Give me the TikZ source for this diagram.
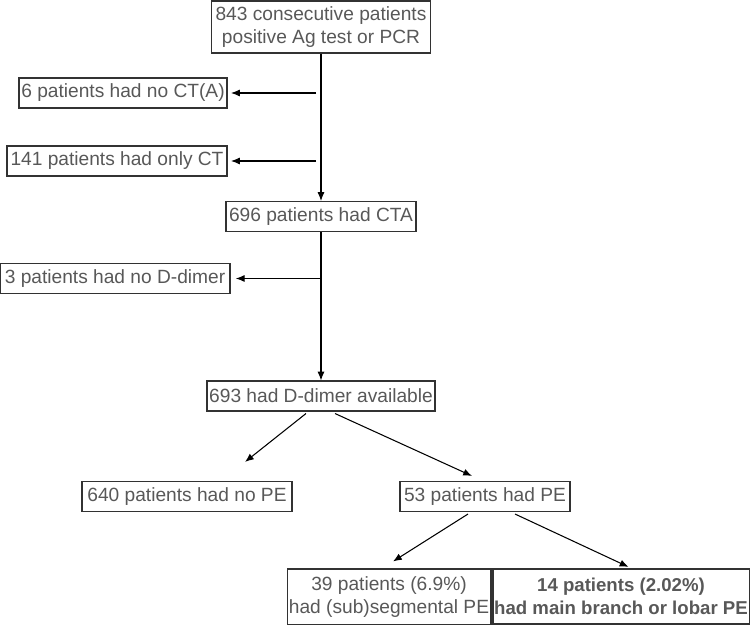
\documentclass[tikz,border=0pt]{standalone}
\usepackage{fontspec}
\setmainfont{Liberation Sans}
\usetikzlibrary{arrows.meta}
\definecolor{boxtext}{RGB}{88,88,88}
\definecolor{boxline}{RGB}{50,50,50}
\begin{document}
\begin{tikzpicture}[
    box/.style={draw=boxline, line width=0.6pt, text=boxtext, align=center, inner sep=1pt,
      minimum height=0.6cm, font=\fontsize{10.9}{13}\selectfont},
    arr/.style={-{Latex[length=5pt,width=4pt]}, line width=0.6pt}
  ]
    \useasboundingbox (0,0) rectangle (15,12.5);

    % Inclusion
    \node[box, minimum width=4.38cm, minimum height=1.04cm] (start) at (6.42,11.96) {
      843 consecutive patients\\positive Ag test or PCR
    };

    % Exclusions before CTA
    \node[box, minimum width=4.16cm] (noCT) at (2.46,10.64) {6 patients had no CT(A)};
    \node[box, minimum width=4.4cm] (onlyCT) at (2.34,9.28) {141 patients had only CT};

    % Patients with CTA
    \node[box, minimum width=3.8cm] (cta) at (6.42,8.17) {696 patients had CTA};

    % Exclusion without D-dimer
    \node[box, minimum width=4.6cm] (noDdimer) at (2.30,6.93) {3 patients had no D-dimer};

    % D-dimer available
    \node[box, minimum width=4.56cm] (ddimer) at (6.42,4.58) {693 had D-dimer available};

    % PE outcome
    \node[box, minimum width=4.2cm] (noPE) at (3.74,2.57) {640 patients had no PE};
    \node[box, minimum width=3.4cm] (hasPE) at (9.70,2.57) {53 patients had PE};

    % PE location
    \node[box, minimum width=4.04cm, minimum height=1.12cm] (subseg) at (7.78,0.56) {
      39 patients (6.9\%)\\had (sub)segmental PE
    };
    \node[box, line width=1.2pt, minimum width=5.06cm, minimum height=1.1cm, font=\fontsize{10.6}{13}\selectfont\bfseries] (lobar) at (12.42,0.57) {
      14 patients (2.02\%)\\had main branch or lobar PE
    };

    % Junctions on the main line
    \coordinate (j1) at (6.32,10.64);
    \coordinate (j2) at (6.32,9.28);
    \coordinate (j3) at (6.42,6.93);

    % Main line
    \draw[arr] (start) -- (cta);
    \draw[arr] (cta) -- (ddimer);
    \draw[arr] (j1) -- ([xshift=2pt]noCT.east);
    \draw[arr] (j2) -- ([xshift=2pt]onlyCT.east);
    \draw[arr] (j3) -- ([xshift=3pt]noDdimer.east);

    % Branches
    \draw[arr] ([xshift=-0.3cm,yshift=-0.04cm]ddimer.south) -- ([xshift=1.16cm,yshift=0.38cm]noPE.north);
    \draw[arr] ([xshift=0.28cm,yshift=-0.04cm]ddimer.south) -- ([xshift=-0.26cm,yshift=0.1cm]hasPE.north);
    \draw[arr] ([xshift=-0.34cm,yshift=-0.04cm]hasPE.south) -- ([xshift=0.08cm,yshift=0.14cm]subseg.north);
    \draw[arr] ([xshift=0.6cm,yshift=-0.04cm]hasPE.south) -- ([xshift=0.15cm,yshift=0.02cm]lobar.north);
  \end{tikzpicture}
\end{document}
